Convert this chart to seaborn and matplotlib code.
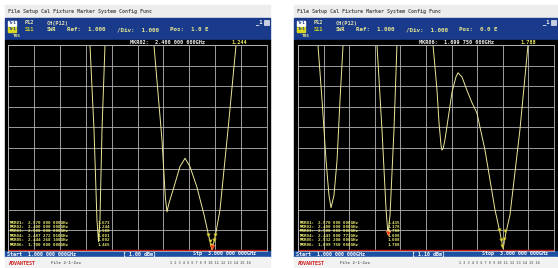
import numpy as np
import pandas as pd
import matplotlib
matplotlib.use("Agg")
import matplotlib.pyplot as plt
import seaborn as sns
from matplotlib.patches import Rectangle

W, H = 558, 268

# SWR trace, left screen (GHz, SWR) - values above 11 are off the top of the screen
freq_a = [1.00, 1.60, 1.633, 1.664, 1.687, 1.699, 1.710, 1.726, 1.749, 1.78,
          2.10, 2.127, 2.189, 2.215, 2.228, 2.242, 2.274, 2.328, 2.367, 2.405,
          2.459, 2.514, 2.544, 2.575, 2.606, 2.637, 2.699, 2.761, 2.80, 3.00]
swr_a = [15, 15, 11.0, 6.9, 2.5, 1.45, 2.5, 6.9, 11.0, 15,
         15, 11.0, 6.4, 3.6, 2.9, 3.3, 3.95, 5.1, 5.5, 5.1,
         4.1, 2.75, 1.9, 1.05, 1.9, 3.0, 6.9, 11.0, 15, 15]

# SWR trace, right screen
freq_b = [1.00, 1.13, 1.156, 1.188, 1.219, 1.242, 1.258, 1.281, 1.305, 1.328,
          1.352, 1.38, 1.59, 1.617, 1.656, 1.688, 1.703, 1.719, 1.750, 1.773,
          1.80, 2.03, 2.055, 2.086, 2.102, 2.118, 2.125, 2.135, 2.148, 2.172,
          2.203, 2.234, 2.250, 2.281, 2.320, 2.359, 2.398, 2.422, 2.461, 2.500,
          2.539, 2.578, 2.602, 2.625, 2.656, 2.688, 2.734, 2.797, 2.83, 3.00]
swr_b = [15, 15, 11.0, 8.3, 5.4, 3.7, 3.1, 3.7, 5.4, 8.3,
         11.0, 15, 15, 11.0, 6.9, 3.0, 1.8, 2.75, 6.9, 11.0,
         15, 15, 11.0, 8.8, 7.2, 6.1, 5.9, 6.0, 6.4, 7.4,
         8.7, 9.45, 9.65, 9.45, 8.8, 8.2, 7.7, 7.0, 5.9, 4.45,
         3.0, 1.9, 1.12, 1.9, 2.75, 4.45, 6.9, 11.0, 15, 15]

# marker triangles as they appear on screen
mk_a_f = [2.548, 2.558, 2.566, 2.594, 2.602]
mk_a_s = [1.80, 1.50, 1.30, 1.55, 1.80]
act_a = (2.573, 1.20)
mk_b_f = [2.572, 2.584, 2.596, 2.612, 2.620]
mk_b_s = [2.00, 1.55, 1.25, 1.60, 1.95]
act_b = (1.703, 1.85)

# marker tables
mkr_names = ["MKR01:", "MKR02:", "MKR03:", "MKR04:", "MKR05:", "MKR06:"]
mkr_freq_a = ["2.570 000 000GHz", "2.400 000 000GHz", "2.500 000 000GHz",
              "2.487 272 010GHz", "2.444 268 100GHz", "1.700 000 000GHz"]
mkr_val_a = ["1.673", "1.244", "1.588", "1.001", "1.002", "1.465"]
mkr_freq_b = ["2.570 000 000GHz", "2.400 000 000GHz", "2.500 000 000GHz",
              "2.443 000 773GHz", "2.532 200 000GHz", "1.699 750 000GHz"]
mkr_val_b = ["1.435", "1.178", "1.780", "1.008", "1.008", "1.788"]

sns.set_theme(style="dark")
plt.rcParams['font.family'] = ['DejaVu Sans Mono']

fig = plt.figure(figsize=(W / 100, H / 100), dpi=100, facecolor='white')


def frac(x0, y0, x1, y1):
    return [x0 / W, 1 - y1 / H, (x1 - x0) / W, (y1 - y0) / H]


bg = fig.add_axes([0, 0, 1, 1], zorder=0)
top = fig.add_axes([0, 0, 1, 1], zorder=5)
for a in (bg, top):
    a.set_xlim(0, W)
    a.set_ylim(H, 0)
    a.axis('off')
top.patch.set_alpha(0)

screens = [
    dict(x0=5, x1=270, px0=8, px1=267, f=freq_a, s=swr_a, mf=mk_a_f, ms=mk_a_s, act=act_a,
         mkfreq=mkr_freq_a, mkval=mkr_val_a, head=("MKR02:  2.400 000 000GHz", "1.244"),
         pos="Pos:  1.0 E", ref="Ref:  1.000", pw="[ 1.00 dBm]", stop="Stp  3.000 000 000GHz"),
    dict(x0=294, x1=557, px0=298, px1=554, f=freq_b, s=swr_b, mf=mk_b_f, ms=mk_b_s, act=act_b,
         mkfreq=mkr_freq_b, mkval=mkr_val_b, head=("MKR06:  1.699 750 000GHz", "1.788"),
         pos="Pos:  0.0 E", ref="Ref:  1.000", pw="[ 1.10 dBm]", stop="Stop  3.000 000 000GHz"),
]

txt = dict(family='DejaVu Sans Mono', fontweight='bold', va='center', ha='left')

for sc in screens:
    x0, x1 = sc['x0'], sc['x1']
    # window pieces
    bg.add_patch(Rectangle((x0, 5), x1 - x0, 12, color='#ededed'))
    bg.add_patch(Rectangle((x0, 18), x1 - x0, 22, color='#1a3b8c'))
    bg.add_patch(Rectangle((x0, 40), x1 - x0, 211, color='black'))
    bg.add_patch(Rectangle((x0, 251), x1 - x0, 6, color='#1d4fa3'))
    bg.add_patch(Rectangle((x0, 257), x1 - x0, 11, color='#f2f2f2'))

    top.text(x0 + 3, 11, "File Setup Cal Fixture Marker System Config Func",
             fontsize=3.6, color='#555555', **txt)
    # header
    top.add_patch(Rectangle((x0 + 3, 20.5), 8, 5, color='white'))
    top.text(x0 + 3.5, 23, "Tr1", fontsize=3.2, color='#1a3b8c', **txt)
    top.add_patch(Rectangle((x0 + 3, 27), 8, 5, color='#d8d820'))
    top.text(x0 + 3.5, 29.5, "Tr1", fontsize=3.2, color='#1a3b8c', **txt)
    top.text(x0 + 20, 23, "P12", fontsize=3.8, color='#e0e0b0', **txt)
    top.text(x0 + 20, 29.5, "S11", fontsize=3.8, color='#d8d820', **txt)
    top.text(x0 + 42, 23, "CH(P12)", fontsize=3.8, color='#e0e0b0', **txt)
    top.text(x0 + 42, 29.5, "SWR", fontsize=3.8, color='#e8e890', **txt)
    top.text(x0 + 62, 29.5, sc['ref'], fontsize=4.2, color='#e8e890', **txt)
    top.text(x0 + 112, 29.5, "/Div:  1.000", fontsize=4.2, color='#e8e890', **txt)
    top.text(x0 + 165, 29.5, sc['pos'], fontsize=4.2, color='#e8e890', **txt)
    top.text(x0 + 8, 36, "TRS", fontsize=3.2, color='#e8e890', **txt)
    top.text(x1 - 14, 22, "_1", fontsize=4, color='white', **txt)
    top.add_patch(Rectangle((x1 - 6, 19.5), 5, 5, facecolor='#c8d0e0', edgecolor='white', lw=0.4))
    # active marker readout
    top.text(x0 + 125, 42.5, sc['head'][0], fontsize=3.8, color='#f0f0f0', **txt)
    top.text(x0 + 226, 42.5, sc['head'][1], fontsize=3.8, color='#e8e860', **txt)

    # trace area
    ax = fig.add_axes(frac(sc['px0'], 45, sc['px1'], 251), zorder=2)
    ax.set_facecolor('black')
    df = pd.DataFrame({'freq': sc['f'], 'swr': sc['s']})
    sns.lineplot(data=df, x='freq', y='swr', ax=ax, color='#ece89a', lw=0.7,
                 estimator=None, sort=False)
    ax.axhline(1.06, color='#c81818', lw=1.0)
    mk = pd.DataFrame({'freq': sc['mf'], 'swr': sc['ms']})
    sns.scatterplot(data=mk, x='freq', y='swr', ax=ax, marker='v', s=7,
                    color='#e8e040', edgecolor='#8a8020', linewidth=0.3, zorder=4)
    ax.scatter([sc['act'][0]], [sc['act'][1]], marker='v', s=12,
               color='#ff3a1a', edgecolor='#ff8a40', linewidth=0.3, zorder=5)
    ax.set_xlim(1, 3)
    ax.set_ylim(1, 11)
    ax.set_xticks(np.linspace(1, 3, 11))
    ax.set_yticks(np.arange(1, 12, 1))
    ax.grid(True, color='#b4b4b4', lw=0.6)
    ax.tick_params(length=0, labelbottom=False, labelleft=False)
    ax.set_xlabel('')
    ax.set_ylabel('')
    for sp in ax.spines.values():
        sp.set_color('#b4b4b4')
        sp.set_linewidth(0.6)

    # marker table
    for i in range(6):
        y = 222.5 + i * 4.4
        top.text(sc['px0'] + 2, y, mkr_names[i], fontsize=3.1, color='#e8e870', **txt)
        top.text(sc['px0'] + 20, y, sc['mkfreq'][i], fontsize=3.1, color='#e8e870', **txt)
        top.text(sc['px0'] + 90, y, sc['mkval'][i], fontsize=3.1, color='#e8e870', **txt)

    # status bar
    top.text(x0 + 2, 254, "Start  1.000 000 000GHz", fontsize=3.6, color='white', **txt)
    top.text(x0 + 118, 254, sc['pw'], fontsize=3.6, color='white', **txt)
    top.text(x0 + 188, 254, sc['stop'], fontsize=3.6, color='white', **txt)
    top.text(x0 + 4, 263.5, "ADVANTEST", fontsize=3.6, color='#d01818', **txt)
    top.text(x0 + 46, 263.5, "File 2-1-2xx", fontsize=3.0, color='#666666', **txt)
    top.text(x0 + 165, 263, " ".join(str(k) for k in range(1, 17)), fontsize=2.6,
             color='#777777', **txt)

fig.savefig('out.png', dpi=100, facecolor='white')
